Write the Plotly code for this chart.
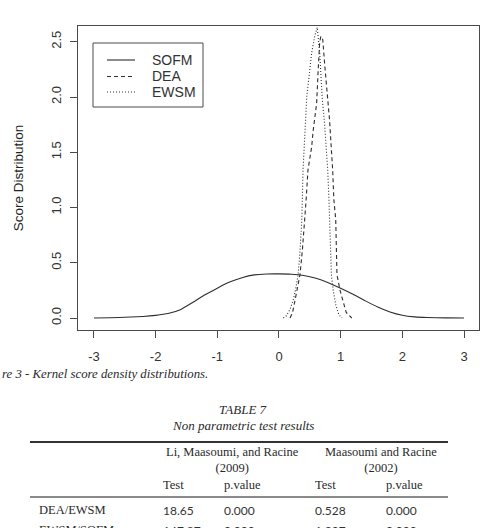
import plotly.graph_objects as go

# ---------------- data ----------------
sofm_x = [-3.0, -2.6, -2.2, -2.0, -1.8, -1.6, -1.4, -1.2, -1.0, -0.8, -0.6, -0.4, -0.2, 0.0,
          0.2, 0.4, 0.6, 0.8, 1.0, 1.2, 1.4, 1.6, 1.8, 2.0, 2.2, 2.4, 2.7, 3.0]
sofm_y = [0.0, 0.004, 0.014, 0.024, 0.040, 0.075, 0.14, 0.21, 0.27, 0.325, 0.365, 0.39, 0.398, 0.399,
          0.396, 0.385, 0.36, 0.32, 0.27, 0.215, 0.155, 0.10, 0.055, 0.025, 0.01, 0.004, 0.001, 0.0]

dea_x = [0.18, 0.22, 0.26, 0.30, 0.34, 0.38, 0.42, 0.44, 0.47, 0.50, 0.53, 0.555, 0.58, 0.61,
         0.635, 0.66, 0.68, 0.71, 0.74, 0.77, 0.82, 0.87, 0.89, 0.92, 0.94, 0.99, 1.04, 1.09, 1.18]
dea_y = [0.0, 0.05, 0.16, 0.27, 0.39, 0.62, 0.89, 1.07, 1.34, 1.45, 1.55, 1.70, 1.82, 1.94,
         2.24, 2.50, 2.55, 2.52, 2.30, 2.09, 1.79, 1.34, 1.07, 0.89, 0.39, 0.25, 0.16, 0.05, 0.0]

ewsm_x = [0.07, 0.12, 0.18, 0.23, 0.27, 0.31, 0.34, 0.37, 0.39, 0.42, 0.45, 0.49, 0.53, 0.58,
          0.62, 0.66, 0.70, 0.74, 0.79, 0.81, 0.82, 0.85, 0.88, 0.92, 0.97, 1.02]
ewsm_y = [0.0, 0.02, 0.08, 0.16, 0.26, 0.39, 0.60, 0.89, 1.34, 1.70, 2.00, 2.20, 2.40, 2.55,
          2.63, 2.40, 2.00, 1.75, 1.34, 1.07, 0.89, 0.39, 0.25, 0.12, 0.03, 0.0]

series_names = ["SOFM", "DEA", "EWSM"]
series_dash = ["solid", "4px,3px", "1px,2px"]

x_ticks = [-3, -2, -1, 0, 1, 2, 3]
x_tick_labels = ["-3", "-2", "-1", "0", "1", "2", "3"]
y_ticks = [0.0, 0.5, 1.0, 1.5, 2.0, 2.5]
y_tick_labels = ["0.0", "0.5", "1.0", "1.5", "2.0", "2.5"]

caption_text = "re 3 - Kernel score density distributions."
table_title = "TABLE 7"
table_subtitle = "Non parametric test results"
group_headers = ["Li, Maasoumi, and Racine<br>(2009)", "Maasoumi and Racine<br>(2002)"]
col_headers = ["Test", "p.value", "Test", "p.value"]
row_labels = ["DEA/EWSM", "EWSM/SOFM"]
row_values = [["18.65", "0.000", "0.528", "0.000"],
              ["147.87", "0.000", "1.297", "0.000"]]

# ---------------- figure ----------------
W, H = 499, 528
ML, MR, MT, MB = 78, 20, 26, 198
PW, PH = W - ML - MR, H - MT - MB

def px(X):
    return (X - ML) / PW

def py(Y):
    return (H - MB - Y) / PH

line_col = "#2e2e2e"
axis_col = "#4a4a4a"

fig = go.Figure()
fig.add_trace(go.Scatter(x=sofm_x, y=sofm_y, mode="lines", name=series_names[0],
                         line=dict(color=line_col, width=1.1, shape="spline", smoothing=0.5)))
fig.add_trace(go.Scatter(x=dea_x, y=dea_y, mode="lines", name=series_names[1],
                         line=dict(color=line_col, width=1.1, dash=series_dash[1])))
fig.add_trace(go.Scatter(x=ewsm_x, y=ewsm_y, mode="lines", name=series_names[2],
                         line=dict(color=line_col, width=1.1, dash=series_dash[2])))

sans = "Liberation Sans, Arial, sans-serif"
serif = "Liberation Serif, Times New Roman, serif"
numfont = "Lato, Open Sans, sans-serif"

fig.update_layout(
    width=W, height=H,
    margin=dict(l=ML, r=MR, t=MT, b=MB, pad=0),
    paper_bgcolor="white", plot_bgcolor="white",
    font=dict(family=sans, color="#333333", size=13),
    showlegend=False,
    xaxis=dict(range=[-3.259, 3.243], tickvals=x_ticks, ticktext=x_tick_labels,
               showline=True, mirror=True, linecolor=axis_col, linewidth=1,
               ticks="outside", ticklen=7, tickcolor=axis_col, tickwidth=1,
               showgrid=False, zeroline=False, ticklabelstandoff=7,
               tickfont=dict(family=sans, size=13, color="#333333")),
    yaxis=dict(range=[-0.1086, 2.6425], tickvals=y_ticks, ticktext=y_tick_labels,
               showline=True, mirror=True, linecolor=axis_col, linewidth=1,
               ticks="outside", ticklen=7, tickcolor=axis_col, tickwidth=1,
               showgrid=False, zeroline=False, tickangle=-90, ticklabelstandoff=4,
               tickfont=dict(family=sans, size=13, color="#333333"),
               title=dict(text="Score Distribution", standoff=22,
                          font=dict(family=sans, size=13.5, color="#222222"))),
)

ann = []
def text(X, Y, s, family=serif, size=13, xanchor="center", italic=False, color="#2a2a2a"):
    if italic:
        s = "<i>" + s + "</i>"
    ann.append(dict(x=px(X), y=py(Y), xref="paper", yref="paper", text=s, showarrow=False,
                    xanchor=xanchor, yanchor="middle", align="center",
                    font=dict(family=family, size=size, color=color)))

# legend (drawn like R's legend box)
fig.add_shape(type="rect", xref="paper", yref="paper", x0=px(93), x1=px(203), y0=py(43), y1=py(107),
              line=dict(color=axis_col, width=1), fillcolor="white")
for name, dash, ly in zip(series_names, series_dash, [60, 76.5, 92]):
    fig.add_shape(type="line", xref="paper", yref="paper", x0=px(107), x1=px(135), y0=py(ly), y1=py(ly),
                  line=dict(color=line_col, width=1.1, dash=dash))
    text(150, ly, name, family=sans, size=14, xanchor="left", color="#333333")

# caption
text(0, 374, caption_text, size=12.8, xanchor="left", italic=True)
# table title
text(243, 409, table_title, size=13, italic=True)
text(243, 425, table_subtitle, size=13, italic=True)
# group headers
text(232, 460, group_headers[0], size=12.5)
text(381, 460, group_headers[1], size=12.5)
# column headers
col_x = [161, 222, 313, 384]
for cx, h in zip(col_x, col_headers):
    text(cx, 485, h, size=12.5, xanchor="left")
# rows
row_y = [510, 530]
for ry, lab, vals in zip(row_y, row_labels, row_values):
    text(37, ry, lab, size=12.5, xanchor="left")
    for cx, v in zip(col_x, vals):
        text(cx, ry, v, family=numfont, size=12, xanchor="left", color="#333333")

fig.update_layout(annotations=ann)

fig.add_shape(type="line", xref="paper", yref="paper", x0=px(30), x1=px(448), y0=py(442), y1=py(442),
              line=dict(color="#333333", width=2))
fig.add_shape(type="line", xref="paper", yref="paper", x0=px(30), x1=px(448), y0=py(497), y1=py(497),
              line=dict(color="#8a8a8a", width=2))

fig.write_html("out.html")
